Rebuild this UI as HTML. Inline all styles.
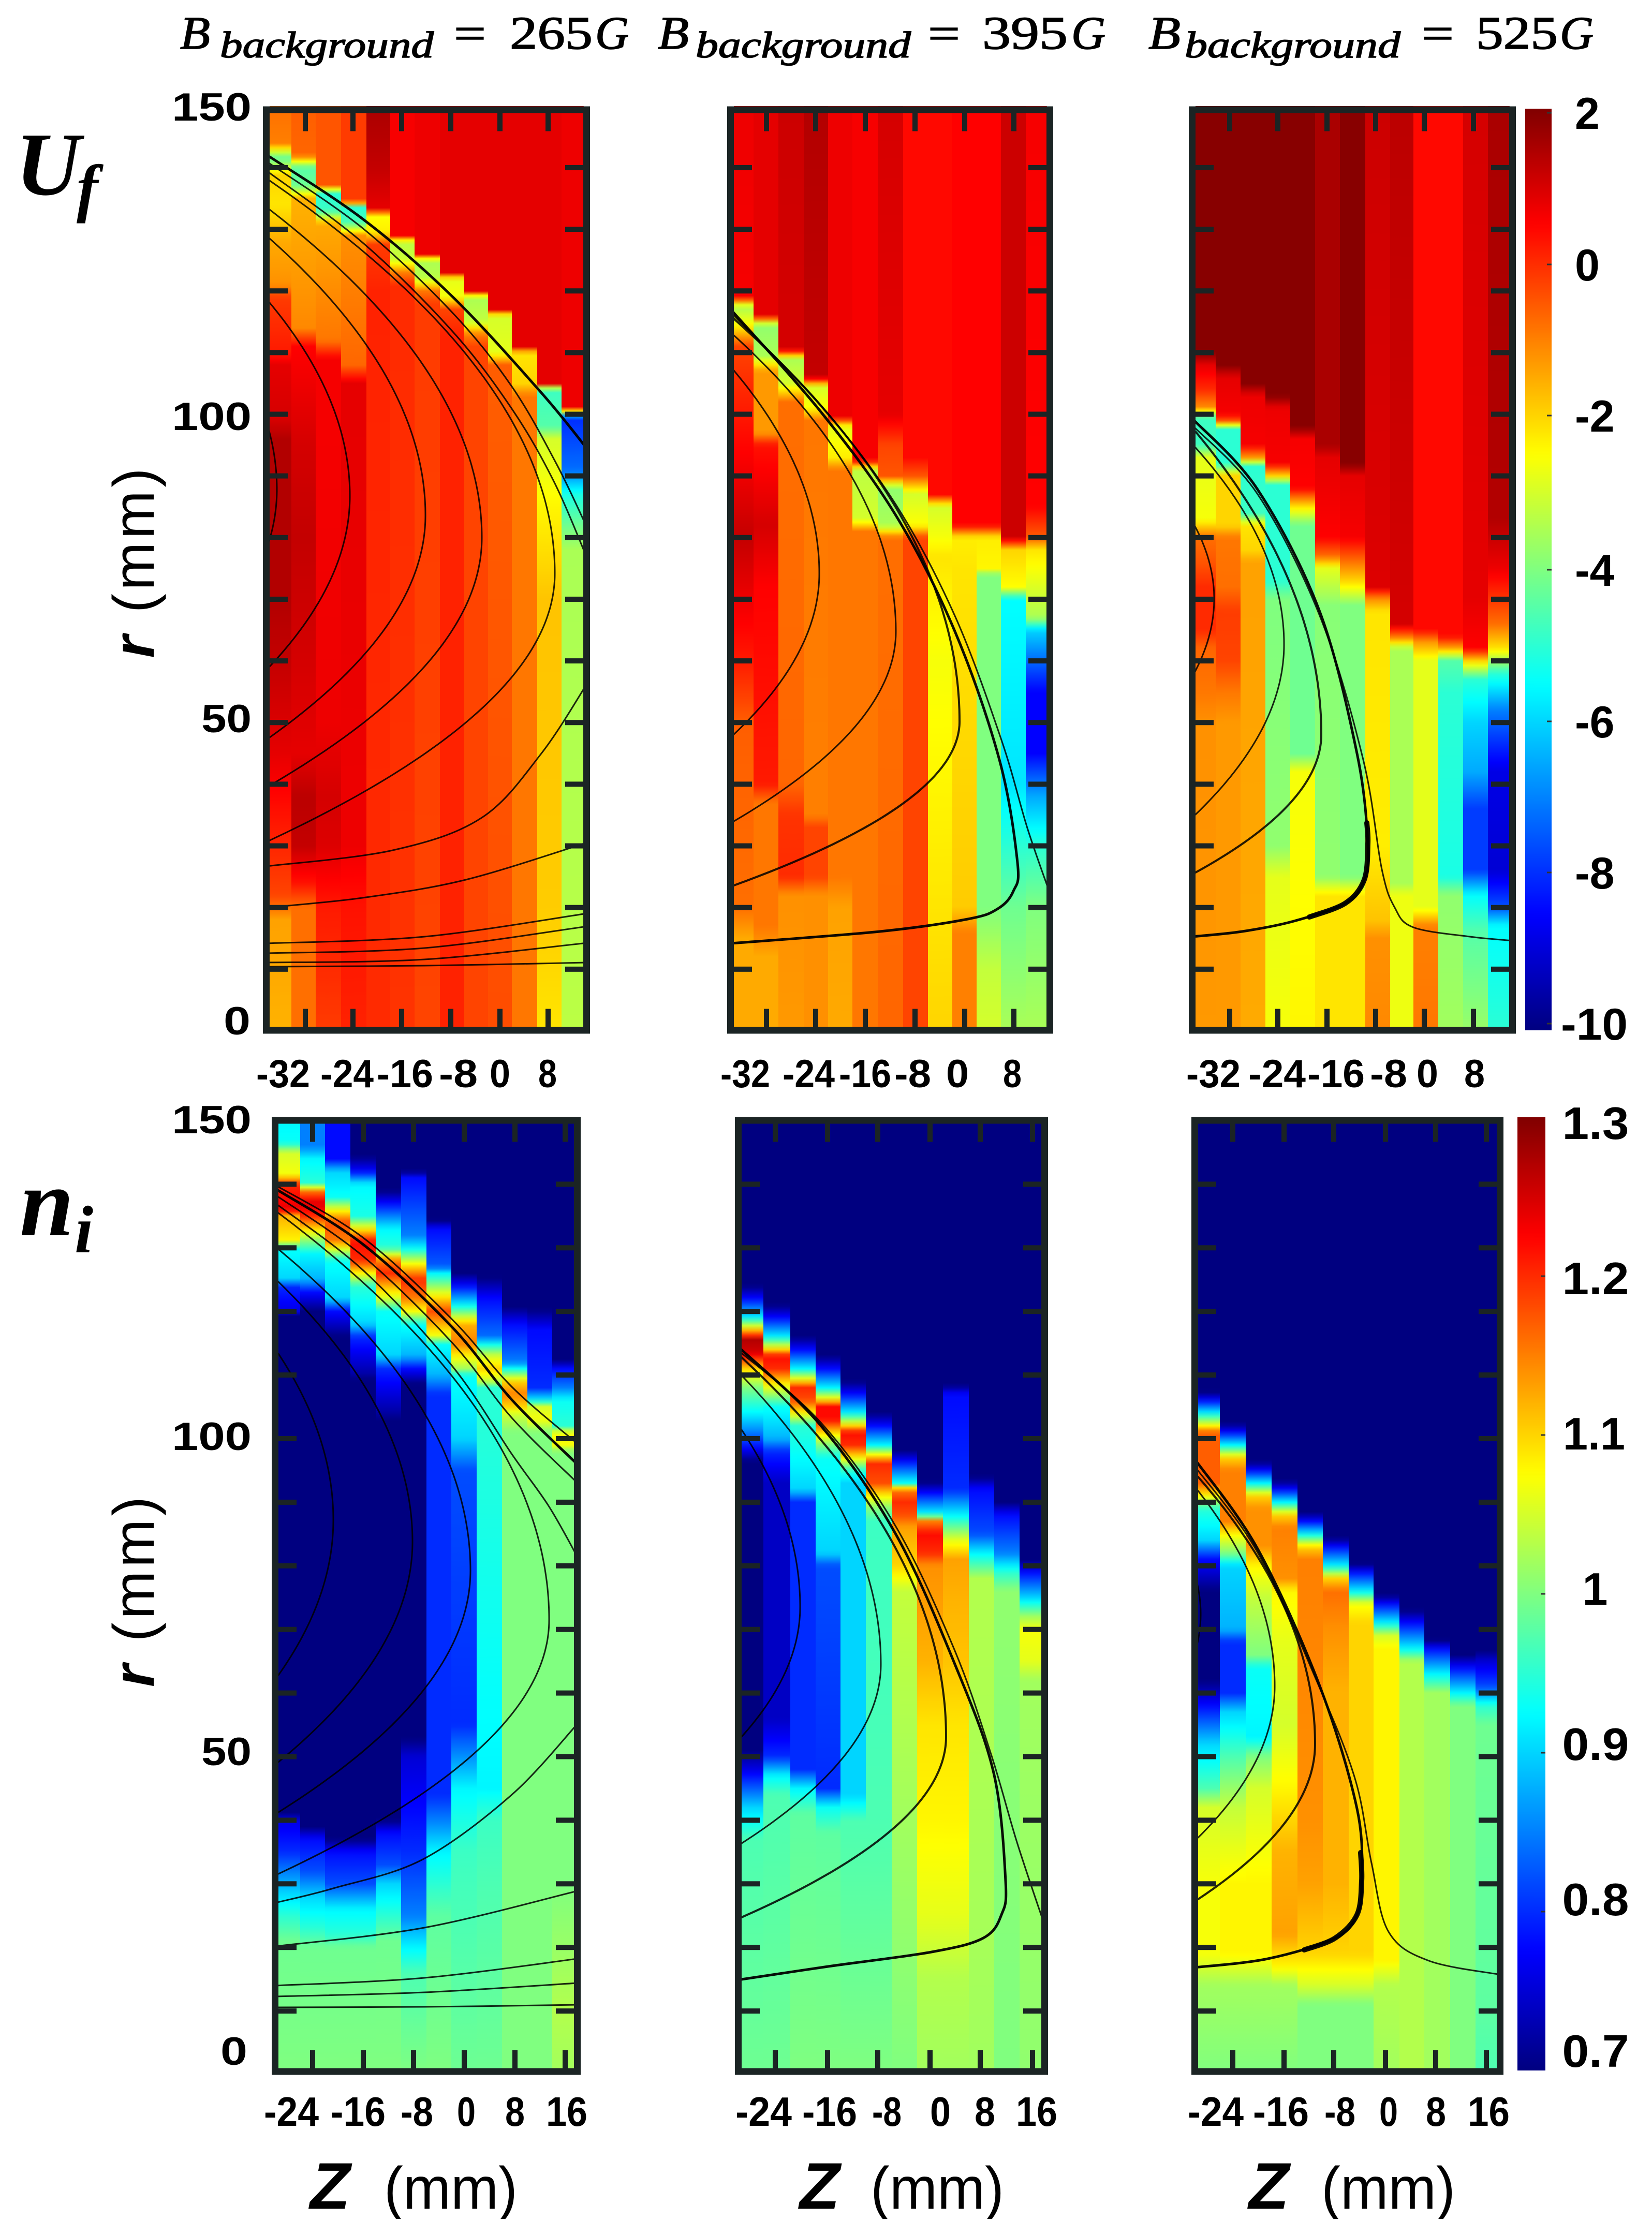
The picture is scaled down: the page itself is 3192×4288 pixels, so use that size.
<!DOCTYPE html>
<html>
<head>
<meta charset="utf-8">
<style>
html,body{margin:0;padding:0;background:#fff;}
svg{display:block;}
</style>
</head>
<body>
<svg id="fig" xmlns="http://www.w3.org/2000/svg" width="3192" height="4288" viewBox="0 0 3192 4288">
<rect x="0" y="0" width="3192" height="4288" fill="#fff"/>
<defs id="defs"></defs>
<g id="heat"></g>
<g id="cont"></g>
<g id="axes"></g>
<g id="texts" fill="#000">
  <!-- Titles -->
  <g font-family="Liberation Serif, DejaVu Serif, serif" font-style="italic" stroke="#000" stroke-width="1.6">
    <text x="348" y="94" font-size="90" textLength="58" lengthAdjust="spacingAndGlyphs">B</text>
    <text x="425" y="111" font-size="72" textLength="413" lengthAdjust="spacingAndGlyphs">background</text>
    <text x="877" y="94" font-size="88" font-style="normal" textLength="62" lengthAdjust="spacingAndGlyphs">=</text>
    <text x="985" y="94" font-size="90" font-style="normal" textLength="160" lengthAdjust="spacingAndGlyphs">265</text>
    <text x="1150" y="94" font-size="90" textLength="65" lengthAdjust="spacingAndGlyphs">G</text>

    <text x="1271" y="94" font-size="90" textLength="60" lengthAdjust="spacingAndGlyphs">B</text>
    <text x="1344" y="111" font-size="72" textLength="416" lengthAdjust="spacingAndGlyphs">background</text>
    <text x="1793" y="94" font-size="88" font-style="normal" textLength="62" lengthAdjust="spacingAndGlyphs">=</text>
    <text x="1898" y="94" font-size="90" font-style="normal" textLength="165" lengthAdjust="spacingAndGlyphs">395</text>
    <text x="2070" y="94" font-size="90" textLength="66" lengthAdjust="spacingAndGlyphs">G</text>

    <text x="2219" y="94" font-size="90" textLength="62" lengthAdjust="spacingAndGlyphs">B</text>
    <text x="2289" y="111" font-size="72" textLength="417" lengthAdjust="spacingAndGlyphs">background</text>
    <text x="2747" y="94" font-size="88" font-style="normal" textLength="62" lengthAdjust="spacingAndGlyphs">=</text>
    <text x="2852" y="94" font-size="90" font-style="normal" textLength="158" lengthAdjust="spacingAndGlyphs">525</text>
    <text x="3014" y="94" font-size="90" textLength="65" lengthAdjust="spacingAndGlyphs">G</text>
  </g>

  <!-- Row labels -->
  <g font-family="Liberation Serif, DejaVu Serif, serif" font-weight="bold" font-style="italic">
    <text x="30" y="376" font-size="174">U</text>
    <text x="148" y="405" font-size="125">f</text>
    <text x="38" y="2387" font-size="188">n</text>
    <text x="144" y="2420" font-size="130">i</text>
  </g>

  <!-- r (mm) labels -->
  <g font-family="Liberation Sans, Arial, sans-serif" font-size="112">
    <g transform="translate(297,1088) rotate(-90)">
      <text x="0" y="0" text-anchor="middle" textLength="367" lengthAdjust="spacing"><tspan font-weight="bold" font-style="italic">r</tspan> (mm)</text>
    </g>
    <g transform="translate(297,3076) rotate(-90)">
      <text x="0" y="0" text-anchor="middle" textLength="368" lengthAdjust="spacing"><tspan font-weight="bold" font-style="italic">r</tspan> (mm)</text>
    </g>
  </g>

  <!-- Z (mm) labels -->
  <g font-family="Liberation Sans, Arial, sans-serif">
    <text x="599" y="4268" font-size="127" font-weight="bold" font-style="italic">Z</text>
    <text x="742" y="4268" font-size="115" textLength="258" lengthAdjust="spacingAndGlyphs">(mm)</text>
    <text x="1545" y="4268" font-size="127" font-weight="bold" font-style="italic">Z</text>
    <text x="1682" y="4268" font-size="115" textLength="258" lengthAdjust="spacingAndGlyphs">(mm)</text>
    <text x="2413" y="4268" font-size="127" font-weight="bold" font-style="italic">Z</text>
    <text x="2553" y="4268" font-size="115" textLength="259" lengthAdjust="spacingAndGlyphs">(mm)</text>
  </g>

  <!-- Y tick labels -->
  <g font-family="Liberation Sans, Arial, sans-serif" font-weight="bold" font-size="76" text-anchor="end">
    <text x="486" y="233" textLength="154" lengthAdjust="spacingAndGlyphs">150</text>
    <text x="486" y="831" textLength="154" lengthAdjust="spacingAndGlyphs">100</text>
    <text x="486" y="1415" textLength="97" lengthAdjust="spacingAndGlyphs">50</text>
    <text x="484" y="1999" textLength="52" lengthAdjust="spacingAndGlyphs">0</text>
    <text x="486" y="2190" textLength="154" lengthAdjust="spacingAndGlyphs">150</text>
    <text x="486" y="2802" textLength="154" lengthAdjust="spacingAndGlyphs">100</text>
    <text x="486" y="3411" textLength="97" lengthAdjust="spacingAndGlyphs">50</text>
    <text x="478" y="3990" textLength="52" lengthAdjust="spacingAndGlyphs">0</text>
  </g>

  <!-- X tick labels top row -->
  <g font-family="Liberation Sans, Arial, sans-serif" font-weight="bold" font-size="76">
    <text x="495" y="2101" textLength="104" lengthAdjust="spacingAndGlyphs">-32</text>
    <text x="619" y="2101" textLength="103" lengthAdjust="spacingAndGlyphs">-24</text>
    <text x="728" y="2101" textLength="109" lengthAdjust="spacingAndGlyphs">-16</text>
    <text x="848" y="2101" textLength="75" lengthAdjust="spacingAndGlyphs">-8</text>
    <text x="946" y="2101" textLength="40" lengthAdjust="spacingAndGlyphs">0</text>
    <text x="1040" y="2101" textLength="36" lengthAdjust="spacingAndGlyphs">8</text>

    <text x="1392" y="2101" textLength="96" lengthAdjust="spacingAndGlyphs">-32</text>
    <text x="1512" y="2101" textLength="101" lengthAdjust="spacingAndGlyphs">-24</text>
    <text x="1621" y="2101" textLength="101" lengthAdjust="spacingAndGlyphs">-16</text>
    <text x="1728" y="2101" textLength="71" lengthAdjust="spacingAndGlyphs">-8</text>
    <text x="1828" y="2101" textLength="44" lengthAdjust="spacingAndGlyphs">0</text>
    <text x="1938" y="2101" textLength="36" lengthAdjust="spacingAndGlyphs">8</text>

    <text x="2292" y="2101" textLength="105" lengthAdjust="spacingAndGlyphs">-32</text>
    <text x="2412" y="2101" textLength="111" lengthAdjust="spacingAndGlyphs">-24</text>
    <text x="2526" y="2101" textLength="111" lengthAdjust="spacingAndGlyphs">-16</text>
    <text x="2647" y="2101" textLength="72" lengthAdjust="spacingAndGlyphs">-8</text>
    <text x="2737" y="2101" textLength="42" lengthAdjust="spacingAndGlyphs">0</text>
    <text x="2829" y="2101" textLength="40" lengthAdjust="spacingAndGlyphs">8</text>
  </g>

  <!-- X tick labels bottom row -->
  <g font-family="Liberation Sans, Arial, sans-serif" font-weight="bold" font-size="80">
    <text x="510" y="4108" textLength="106" lengthAdjust="spacingAndGlyphs">-24</text>
    <text x="639" y="4108" textLength="106" lengthAdjust="spacingAndGlyphs">-16</text>
    <text x="774" y="4108" textLength="63" lengthAdjust="spacingAndGlyphs">-8</text>
    <text x="883" y="4108" textLength="36" lengthAdjust="spacingAndGlyphs">0</text>
    <text x="976" y="4108" textLength="38" lengthAdjust="spacingAndGlyphs">8</text>
    <text x="1055" y="4108" textLength="80" lengthAdjust="spacingAndGlyphs">16</text>

    <text x="1421" y="4108" textLength="109" lengthAdjust="spacingAndGlyphs">-24</text>
    <text x="1550" y="4108" textLength="106" lengthAdjust="spacingAndGlyphs">-16</text>
    <text x="1685" y="4108" textLength="57" lengthAdjust="spacingAndGlyphs">-8</text>
    <text x="1797" y="4108" textLength="40" lengthAdjust="spacingAndGlyphs">0</text>
    <text x="1883" y="4108" textLength="40" lengthAdjust="spacingAndGlyphs">8</text>
    <text x="1963" y="4108" textLength="80" lengthAdjust="spacingAndGlyphs">16</text>

    <text x="2295" y="4108" textLength="108" lengthAdjust="spacingAndGlyphs">-24</text>
    <text x="2421" y="4108" textLength="108" lengthAdjust="spacingAndGlyphs">-16</text>
    <text x="2559" y="4108" textLength="60" lengthAdjust="spacingAndGlyphs">-8</text>
    <text x="2665" y="4108" textLength="36" lengthAdjust="spacingAndGlyphs">0</text>
    <text x="2755" y="4108" textLength="39" lengthAdjust="spacingAndGlyphs">8</text>
    <text x="2836" y="4108" textLength="81" lengthAdjust="spacingAndGlyphs">16</text>
  </g>

  <!-- Colorbar labels -->
  <g font-family="Liberation Sans, Arial, sans-serif" font-weight="bold" font-size="86">
    <text x="3043" y="249">2</text>
    <text x="3043" y="542">0</text>
    <text x="3043" y="834">-2</text>
    <text x="3043" y="1132">-4</text>
    <text x="3043" y="1425">-6</text>
    <text x="3043" y="1717">-8</text>
    <text x="3016" y="2009" textLength="129" lengthAdjust="spacingAndGlyphs">-10</text>
  </g>
  <g font-family="Liberation Sans, Arial, sans-serif" font-weight="bold" font-size="88" text-anchor="middle">
    <text x="3083" y="2201" textLength="129" lengthAdjust="spacingAndGlyphs">1.3</text>
    <text x="3083" y="2501" textLength="129" lengthAdjust="spacingAndGlyphs">1.2</text>
    <text x="3080" y="2801" textLength="120" lengthAdjust="spacingAndGlyphs">1.1</text>
    <text x="3082" y="3101">1</text>
    <text x="3083" y="3401" textLength="129" lengthAdjust="spacingAndGlyphs">0.9</text>
    <text x="3083" y="3701" textLength="129" lengthAdjust="spacingAndGlyphs">0.8</text>
    <text x="3083" y="3994" textLength="129" lengthAdjust="spacingAndGlyphs">0.7</text>
  </g>
</g>
</svg>
<script>
(function(){
var NS='http://www.w3.org/2000/svg';
var defs=document.getElementById('defs');
var heat=document.getElementById('heat');
var cont=document.getElementById('cont');
var axes=document.getElementById('axes');
function el(tag,attrs,parent){var e=document.createElementNS(NS,tag);for(var k in attrs){e.setAttribute(k,attrs[k]);}if(parent){parent.appendChild(e);}return e;}
function cl(x){return Math.max(0,Math.min(1,x));}
function jet(t){t=cl(t);var r=cl(1.5-Math.abs(4*t-3)),g=cl(1.5-Math.abs(4*t-2)),b=cl(1.5-Math.abs(4*t-1));
  return 'rgb('+Math.round(r*255)+','+Math.round(g*255)+','+Math.round(b*255)+')';}
function interp(st,r){
  if(r>=st[0][0])return st[0][1];
  for(var k=0;k<st.length-1;k++){var a=st[k],b=st[k+1];
    if(r<=a[0]&&r>=b[0]){var d=a[0]-b[0];var f=d>0?(a[0]-r)/d:0;return a[1]+f*(b[1]-a[1]);}}
  return st[st.length-1][1];}
var gid=0;
function panel(xs,y150,y0,cols,vmin,vmax){
  for(var i=0;i<cols.length;i++){
    var id='g'+(gid++);
    var lg=el('linearGradient',{id:id,gradientUnits:'userSpaceOnUse',x1:0,x2:0,y1:y150,y2:y0},defs);
    for(var r=150;r>=-0.01;r-=0.75){
      var rr=Math.max(0,r);
      var v=interp(cols[i],rr);
      el('stop',{offset:((150-rr)/150).toFixed(4),'stop-color':jet((v-vmin)/(vmax-vmin))},lg);
    }
    el('rect',{x:xs[i],y:y150,width:(xs[i+1]-xs[i]+0.8),height:(y0-y150),fill:'url(#'+id+')'},heat);
  }
}

/* ================= TOP ROW (U_f, -10..2) ================= */
var TP1=[
[[150,-0.8],[144,-1.0],[141.5,-4.5],[139,-2.0],[134,-2.2],[128,-1.5],[121,-1.2],[119,-0.2],[110,0.2],[108,0.8],[99,1.0],[96,1.4],[70,1.4],[60,1.2],[45,0.8],[35,0.3],[22,-0.3],[18,-1.4],[0,-1.6]],
[[150,-0.6],[142,-0.7],[140,-4.5],[137,-4.2],[135,-1.6],[114,-1.1],[111,0.5],[95,1.0],[80,1.2],[60,1.0],[45,0.8],[38,1.3],[30,1.2],[24,0.3],[20,-0.8],[0,-0.8]],
[[150,-0.5],[137,-0.5],[136,-5],[133,-4.8],[131,-1.5],[112,-0.9],[109,0.6],[50,0.7],[38,1.0],[30,0.9],[20,0.2],[0,-0.2]],
[[150,-0.2],[134.5,-0.2],[133.5,-5],[131,-4.6],[129,-1.2],[108,-0.7],[105,0.8],[30,0.7],[20,0.3],[0,0.1]],
[[150,1.5],[140,1.2],[133.5,0.8],[132,-2.5],[129.5,-2.3],[127.5,-0.2],[120,0.1],[0,0.0]],
[[150,0.6],[129,0.6],[128,-3.3],[125,-3.1],[123,-1.0],[121,0.0],[0,-0.1]],
[[150,0.7],[126,0.7],[125,-3.5],[122,-3.3],[120,-0.9],[118,-0.2],[0,-0.3]],
[[150,0.8],[123,0.8],[122,-2.8],[119,-2.6],[117,-0.3],[113,0.1],[0,0.1]],
[[150,0.8],[120,0.8],[119,-3.5],[115,-3.2],[113,-1.0],[111,-0.3],[0,-0.3]],
[[150,0.8],[117,0.8],[116,-3],[110,-2.8],[108,-0.6],[0,-0.4]],
[[150,0.8],[111,0.8],[110,-2.2],[105,-2.0],[103,-0.9],[0,-0.9]],
[[150,0.8],[105,0.8],[104,-4.8],[98,-4.5],[96,-3],[85,-2.4],[70,-1.8],[20,-1.9],[0,-2.2]],
[[150,0.7],[101,0.7],[99.5,-8],[91,-7.2],[87,-5.2],[82,-4.2],[78,-3.5],[0,-3.3]]
];
var TP2=[
[[150,0.7],[119,0.6],[117.5,-3.5],[114.5,-2.5],[111,-0.3],[92,0.6],[80,1.2],[72,0.8],[60,0.2],[50,-0.6],[20,-0.8],[15,-1.5],[0,-1.5]],
[[150,0.8],[116,0.8],[114.5,-3.8],[109.5,-3.5],[107,-1.3],[97,-1.3],[95,0.3],[82,1.0],[72,0.5],[40,0.2],[37,-0.9],[17,-0.9],[12,-1.5],[0,-1.5]],
[[150,1.1],[110.5,1.0],[109,-3.5],[105,-3],[102,-0.8],[40,-0.7],[35,-0.1],[25,0],[22,-1.2],[0,-1.3]],
[[150,1.4],[106,1.2],[104.5,-3],[101,-2.5],[99,-0.9],[35,-1.0],[33,-0.3],[25,-0.3],[22,-1.2],[0,-1.2]],
[[150,0.7],[99.5,0.7],[98,-2.8],[93,-2.3],[91,-0.9],[25,-0.9],[20,-1.4],[0,-1.5]],
[[150,0.6],[92.5,0.6],[91,-3.3],[83,-3.0],[81,-0.9],[0,-0.9]],
[[150,1.0],[100,0.8],[95,-0.3],[90,-0.5],[88,-3.8],[82,-3.5],[80,-0.8],[0,-0.7]],
[[150,0.4],[93,0.4],[90,-0.5],[87,-3],[82,-2.5],[80,-0.3],[0,-0.3]],
[[150,0.4],[87,0.4],[85,-3],[80,-2.6],[77,-2.2],[60,-2.6],[50,-2.5],[0,-2.0]],
[[150,0.5],[82,0.5],[80,-2.3],[75,-2.2],[20,-1.9],[16,-1.0],[0,-1.0]],
[[150,0.5],[82,0.5],[80,-2.3],[75,-2.4],[74,-4],[20,-4],[10,-3.2],[0,-3]],
[[150,1.1],[80,1.1],[78,-2],[72,-2.5],[70,-5.5],[40,-5.8],[30,-5],[20,-4.2],[0,-3.5]],
[[150,0.6],[85,0.5],[80,-0.6],[78,-2.2],[67,-3.5],[65,-6],[55,-8.5],[45,-8.5],[38,-6.5],[30,-5],[20,-4],[0,-3.5]]
];
var TP3=[
[[150,1.9],[110,1.9],[108,0.8],[104,0],[101,-1.2],[99.5,-4.8],[95,-4.8],[93,-2.8],[83,-2.6],[80,-0.8],[76,-0.5],[72,0],[65,0],[62,-0.7],[55,-0.9],[50,-1.2],[0,-1.3]],
[[150,1.9],[108,1.9],[106,0.8],[100,0.6],[99,-0.5],[97.5,-5],[92,-5],[90,-2],[82,-2],[80,-0.9],[72,-0.8],[68,-0.2],[60,-0.3],[55,-0.9],[50,-1.3],[0,-1.3]],
[[150,1.9],[105,1.9],[103,0.7],[95,0.6],[93,-1.3],[91.5,-5],[84,-4.8],[82,-2.2],[78,-2],[76,-1.4],[0,-1.5]],
[[150,1.9],[103,1.9],[101,0.7],[92,0.6],[90,-2],[88.5,-5],[73,-5],[70,-4],[30,-3.8],[25,-2.8],[0,-2.6]],
[[150,1.9],[98,1.9],[96,0.6],[88,0.5],[85,-2.2],[82,-4.2],[45,-4.2],[42,-2.6],[0,-2.4]],
[[150,1.5],[95,1.5],[93,0.8],[80,0.5],[77,-0.8],[75,-2.8],[71,-3.5],[69,-3.9],[25,-3.8],[22,-2.2],[0,-2.2]],
[[150,1.9],[92,1.9],[90,0.8],[80,0.6],[77,-0.5],[73,-2],[69,-4],[25,-4],[22,-2.2],[0,-2.2]],
[[150,1.1],[72,0.9],[70,-1.2],[68,-2.2],[30,-2.3],[18,-1.8],[15,-1.2],[0,-1.1]],
[[150,1.3],[66,1.0],[64,-0.8],[62,-3.5],[24,-3.5],[22,-2.7],[0,-2.7]],
[[150,0.4],[65,0.4],[63,-1.3],[60,-2.8],[20,-2.8],[17,-1.0],[0,-0.9]],
[[150,0.4],[64,0.4],[62,-1.5],[60,-4.5],[55,-5],[25,-5.2],[22,-3.8],[0,-3.6]],
[[150,1.0],[70,0.8],[62,0.5],[60,-2],[57,-5],[50,-6],[42,-6.5],[36,-7.8],[26,-7.8],[22,-5.5],[16,-4.5],[0,-3.7]],
[[150,1.5],[83,1.4],[75,0.7],[66,-0.8],[62,-2.2],[58,-5],[52,-7],[42,-8.8],[26,-9],[20,-7.5],[17,-5.5],[0,-5]]
];

/* ================= BOTTOM ROW (n_i, 0.7..1.3) ================= */
var BP1=[
[[150,0.92],[146.5,0.93],[145,1.05],[141.5,1.07],[140,1.2],[136,1.24],[135,1.12],[131,1.08],[130,0.93],[125,0.9],[124,0.8],[120,0.76],[119,0.66],[42,0.66],[40,0.76],[35,0.8],[30,0.88],[25,0.95],[21,0.99],[0,1.0]],
[[150,0.85],[146,0.85],[144,0.92],[140,0.95],[139,1.15],[137,1.25],[135,1.2],[133,1.1],[131,1.0],[129,0.92],[125,0.88],[123,0.78],[120,0.7],[118,0.66],[40,0.66],[37,0.78],[32,0.82],[28,0.9],[23,0.95],[20,0.99],[0,1.0]],
[[150,0.78],[144,0.78],[142,0.9],[138,0.93],[136,1.07],[134,1.18],[131,1.15],[130,1.07],[128,0.93],[122,0.9],[120,0.78],[116,0.7],[113,0.66],[38,0.66],[35,0.78],[30,0.82],[26,0.92],[22,0.95],[20,0.99],[0,1.0]],
[[150,0.66],[145,0.68],[142,0.78],[140,0.92],[135,0.94],[133,1.08],[131,1.22],[128,1.2],[126,1.08],[124,0.95],[118,0.9],[116,0.8],[110,0.72],[108,0.66],[38,0.66],[35,0.78],[30,0.82],[26,0.92],[22,0.95],[20,0.99],[0,1.0]],
[[150,0.66],[140,0.66],[137,0.78],[133,0.92],[130,0.95],[128,1.15],[126,1.2],[124,1.12],[122,1.05],[120,0.93],[113,0.9],[111,0.8],[104,0.72],[101,0.66],[41,0.66],[38,0.78],[33,0.82],[30,0.9],[25,0.95],[21,0.99],[0,1.0]],
[[150,0.66],[142,0.7],[141,0.78],[132,0.85],[130,0.92],[127,1.1],[125,1.2],[122,1.15],[120,1.07],[118,0.93],[113,0.88],[111,0.78],[108,0.68],[54,0.68],[50,0.75],[35,0.8],[25,0.85],[20,0.92],[16,0.97],[0,1.0]],
[[150,0.66],[135,0.66],[133,0.78],[127,0.83],[126,0.92],[122,1.1],[120,1.18],[118,1.12],[116,1.06],[115,0.93],[110,0.88],[107,0.8],[44,0.8],[40,0.85],[35,0.92],[30,0.95],[25,0.98],[0,1.0]],
[[150,0.66],[127,0.66],[124,0.78],[121,0.92],[118,1.12],[115,1.15],[113,1.08],[111,1.02],[110,0.93],[100,0.9],[95,0.82],[55,0.8],[50,0.86],[45,0.92],[40,0.94],[35,0.96],[0,0.99]],
[[150,0.66],[127,0.66],[122,0.78],[116,0.84],[115,0.92],[113,1.05],[111,1.1],[109,1.04],[108,0.95],[45,0.92],[40,0.96],[30,0.97],[0,0.99]],
[[150,0.66],[122,0.66],[118,0.78],[112,0.85],[111,0.93],[109,1.1],[107,1.15],[105,1.1],[104,1.05],[101,1.0],[0,1.0]],
[[150,0.66],[122,0.66],[117,0.78],[108,0.8],[106,0.92],[105,1.05],[103,1.07],[101,1.0],[0,1.0]],
[[150,0.66],[113,0.66],[111,0.78],[108,0.85],[106,0.93],[102,0.95],[101,1.07],[99,1.07],[98,1.0],[30,1.0],[10,1.03],[0,1.02]]
];
var BP2=[
[[150,0.66],[125,0.66],[122,0.78],[119,0.92],[117,1.12],[115.5,1.27],[113.5,1.25],[111,1.1],[108,1.0],[104,0.92],[101,0.85],[98,0.76],[96,0.68],[52,0.68],[48,0.76],[42,0.9],[37,0.97],[0,0.99]],
[[150,0.66],[122,0.66],[119,0.78],[116,0.92],[114,1.1],[113,1.22],[111,1.2],[109,1.1],[107,1.02],[105,0.93],[100,0.88],[98,0.8],[93,0.74],[56,0.74],[50,0.8],[47,0.92],[44,0.97],[0,0.99]],
[[150,0.66],[117,0.66],[114,0.78],[111,0.92],[109,1.1],[108,1.2],[106,1.18],[104,1.08],[102,0.95],[92,0.9],[90,0.8],[48,0.8],[45,0.92],[41,0.98],[0,1.0]],
[[150,0.66],[114,0.66],[111,0.78],[108,0.92],[106,1.1],[105,1.22],[103,1.22],[101,1.1],[99,1.0],[97,0.93],[82,0.9],[80,0.82],[45,0.8],[42,0.93],[38,0.98],[0,1.0]],
[[150,0.66],[110,0.66],[107,0.78],[104,0.92],[102,1.1],[101,1.22],[99,1.2],[97,1.08],[95,0.95],[93,0.9],[44,0.9],[40,0.97],[0,1.0]],
[[150,0.66],[105,0.66],[102,0.78],[99,0.92],[97,1.12],[96,1.2],[93,1.18],[91,1.08],[89,1.0],[87,0.96],[40,0.97],[0,1.0]],
[[150,0.66],[99,0.66],[96,0.8],[93,0.93],[92,1.15],[90,1.2],[88,1.18],[86,1.13],[80,1.1],[76,1.04],[40,1.02],[0,1.0]],
[[150,0.66],[94,0.66],[91,0.8],[88,0.93],[87,1.15],[85,1.22],[82,1.2],[80,1.14],[65,1.12],[55,1.09],[40,1.08],[25,1.06],[15,1.03],[0,1.02]],
[[150,0.66],[109,0.66],[107,0.78],[92,0.8],[88,0.92],[84,1.06],[81,1.13],[75,1.12],[65,1.11],[55,1.09],[40,1.08],[25,1.06],[15,1.03],[0,1.02]],
[[150,0.66],[95,0.66],[92,0.78],[85,0.82],[82,0.92],[78,1.03],[0,1.02]],
[[150,0.66],[91,0.66],[88,0.78],[82,0.85],[79,0.95],[76,1.01],[0,1.0]],
[[150,0.66],[82,0.66],[79,0.78],[75,0.9],[72,1.02],[70,1.07],[65,1.06],[62,1.02],[0,1.01]]
];
var BP3=[
[[150,0.66],[108,0.66],[106,0.78],[104,0.92],[102,1.08],[101,1.17],[93,1.17],[91,1.08],[89,0.95],[84,0.9],[81,0.78],[76,0.7],[62,0.7],[58,0.78],[52,0.9],[45,0.97],[42,1.05],[30,1.07],[19,1.07],[14,1.02],[0,1.0]],
[[150,0.66],[103,0.66],[101,0.78],[99,0.92],[97,1.1],[95,1.15],[87,1.15],[85,1.08],[82,1.0],[80,0.9],[70,0.88],[68,0.8],[60,0.8],[57,0.9],[50,0.97],[42,1.04],[30,1.08],[19,1.08],[14,1.02],[0,1.0]],
[[150,0.66],[97,0.66],[95,0.78],[93,0.92],[91,1.1],[89,1.14],[83,1.14],[80,1.08],[75,1.04],[66,1.0],[64,0.93],[53,0.92],[50,1.0],[45,1.05],[30,1.08],[19,1.08],[14,1.02],[0,1.0]],
[[150,0.66],[94,0.66],[92,0.78],[90,0.92],[88,1.1],[86,1.15],[78,1.14],[76,1.08],[68,1.06],[55,1.05],[45,1.08],[35,1.12],[22,1.13],[17,1.08],[14,1.02],[0,1.0]],
[[150,0.66],[89,0.66],[87,0.78],[85,0.92],[83,1.1],[81,1.15],[40,1.14],[30,1.13],[19,1.1],[14,1.05],[11,1.0],[0,1.0]],
[[150,0.66],[85,0.66],[83,0.78],[80,0.92],[78,1.1],[76,1.16],[70,1.14],[60,1.12],[30,1.12],[19,1.1],[14,1.05],[11,1.0],[0,1.0]],
[[150,0.66],[81,0.66],[79,0.78],[76,0.92],[74,1.07],[71,1.1],[19,1.1],[14,1.05],[11,1.0],[0,1.0]],
[[150,0.66],[76,0.66],[74,0.78],[71,0.92],[69,1.05],[67,1.08],[18,1.08],[14,1.03],[0,1.02]],
[[150,0.66],[74,0.66],[71,0.78],[67,0.92],[65,1.03],[0,1.03]],
[[150,0.66],[69,0.66],[67,0.78],[63,0.92],[60,1.02],[0,1.02]],
[[150,0.66],[67,0.66],[64,0.78],[60,0.92],[58,1.0],[0,1.0]],
[[150,0.66],[68,0.66],[65,0.75],[61,0.82],[58,0.95],[55,0.99],[10,0.98],[0,0.97]]
];

var TY150=205,TY0=1992,BY150=2165.5,BY0=4009;
panel([521,563,610,659,708,754,801,850,897,943,989,1038,1085,1127],TY150,TY0,TP1,-10,2);
panel([1418,1456,1504,1553,1600,1647,1696,1745,1793,1840,1887,1934,1982,2022],TY150,TY0,TP2,-10,2);
panel([2310,2349,2397,2445,2493,2541,2589,2638,2686,2731,2779,2827,2875,2916],TY150,TY0,TP3,-10,2);
panel([538,580,628,677,726,775,824,872,921,970,1019,1067,1109],BY150,BY0,BP1,0.7,1.3);
panel([1433,1475,1527,1576,1624,1673,1724,1772,1822,1872,1921,1970,2012],BY150,BY0,BP2,0.7,1.3);
panel([2315,2357,2407,2457,2507,2556,2606,2654,2704,2752,2802,2851,2892],BY150,BY0,BP3,0.7,1.3);

/* colorbars */
function cbar(x,y,w,h){
  var id='g'+(gid++);
  var lg=el('linearGradient',{id:id,gradientUnits:'userSpaceOnUse',x1:0,x2:0,y1:y,y2:y+h},defs);
  for(var k=0;k<=100;k++){var t=1-k/100; el('stop',{offset:(k/100).toFixed(3),'stop-color':jet(t)},lg);}
  el('rect',{x:x,y:y,width:w,height:h,fill:'url(#'+id+')'},heat);
}
cbar(2947,210,51,1781);
cbar(2932,2159,54,1842);
[218,511,803,1101,1394,1686,1978].forEach(function(y){el('rect',{x:2989,y:y-1.5,width:9,height:3,fill:'#333'},axes);});
[2466,2773,3080,3387,3694].forEach(function(y){el('rect',{x:2977,y:y-1.5,width:9,height:3,fill:'#333'},axes);});

/* contour lines */
function arcPts(xL,yT,xR,yR,yB){
  var p=[],N=36,k,u,y;
  for(k=0;k<=N;k++){u=1-k/N;y=yR+(yT-yR)*u;p.push([xL+(xR-xL)*(1-u*u),y]);}
  for(k=1;k<=N;k++){u=k/N;y=yR+(yB-yR)*u;p.push([xL+(xR-xL)*(1-u*u),y]);}
  return p;}
function smooth(pts){
  var d='M'+pts[0][0].toFixed(1)+','+pts[0][1].toFixed(1);
  for(var i=0;i<pts.length-1;i++){
    var p0=pts[i-1]||pts[i],p1=pts[i],p2=pts[i+1],p3=pts[i+2]||p2;
    var c1x=p1[0]+(p2[0]-p0[0])/6,c1y=p1[1]+(p2[1]-p0[1])/6,c2x=p2[0]-(p3[0]-p1[0])/6,c2y=p2[1]-(p3[1]-p1[1])/6;
    d+='C'+c1x.toFixed(1)+','+c1y.toFixed(1)+' '+c2x.toFixed(1)+','+c2y.toFixed(1)+' '+p2[0].toFixed(1)+','+p2[1].toFixed(1);}
  return d;}
var C=[
 {clip:[521,212,1127,1986],lines:[
   {arc:[509,797,535,946,1077]},
   {arc:[521,585,676,958,1288]},
   {arc:[521,461,822,996,1425]},
   {arc:[521,405,931,1039,1518]},
   {arc:[521,349,1072,1108,1624]},
   {pts:[[515,330],[702,470],[874,640],[989,790],[1070,930],[1135,1080]]},
   {pts:[[515,312],[702,442],[874,604],[989,747],[1075,896],[1135,1021]]},
   {pts:[[515,299],[702,424],[874,573],[1046,759],[1135,868]],w:5},
   {pts:[[1135,1320],[1046,1456],[931,1580],[759,1643],[515,1674]]},
   {pts:[[1135,1628],[900,1700],[700,1735],[515,1754]]},
   {pts:[[515,1823],[820,1810],[1135,1765]]},
   {pts:[[515,1842],[820,1832],[1135,1790]]},
   {pts:[[515,1860],[820,1854],[1135,1822]]},
   {pts:[[515,1868],[820,1866],[1135,1860]]}
 ]},
 {clip:[1418,212,2022,1986],lines:[
   {arc:[1418,716,1583,1108,1419]},
   {arc:[1418,648,1731,1220,1587]},
   {arc:[1418,616,1854,1394,1711],w:4},
   {pts:[[1412,598],[1587,797],[1731,996],[1845,1220],[1931,1468],[1966,1667],[1958,1722],[1928,1756],[1870,1776],[1700,1800],[1412,1823]],w:5},
   {pts:[[1412,604],[1587,784],[1731,975],[1845,1190],[1935,1430],[1985,1600],[2030,1730]],w:3}
 ]},
 {clip:[2310,212,2916,1986],lines:[
   {arc:[2297,996,2346,1157,1319]},
   {arc:[2310,865,2481,1245,1574]},
   {arc:[2310,834,2553,1419,1686],w:4},
   {pts:[[2304,809],[2430,946],[2550,1182],[2622,1456],[2643,1630],[2636,1700],[2600,1745],[2500,1780],[2400,1800],[2304,1810]],w:5},
   {pts:[[2641,1590],[2643,1630],[2636,1700],[2600,1745],[2530,1772]],w:10},
   {pts:[[2304,822],[2430,955],[2550,1190],[2634,1468],[2670,1680],[2695,1754],[2731,1792],[2840,1810],[2925,1818]],w:3}
 ]},
 {clip:[538,2172,1109,3997],lines:[
   {arc:[538,2616,644,2937,3237]},
   {arc:[538,2477,797,2979,3405]},
   {arc:[538,2414,909,3035,3502]},
   {arc:[538,2344,1061,3130,3621]},
   {pts:[[532,2290],[702,2392],[874,2550],[989,2680],[1116,2790]]},
   {pts:[[532,2297],[702,2405],[874,2565],[989,2705],[1116,2830]],w:5},
   {pts:[[532,2309],[702,2428],[874,2595],[989,2740],[1116,2866]]},
   {pts:[[532,2325],[702,2455],[874,2640],[989,2810],[1060,2910],[1116,3009]]},
   {pts:[[1116,3331],[989,3468],[817,3593],[644,3649],[532,3677]]},
   {pts:[[1116,3654],[820,3725],[532,3761]]},
   {pts:[[532,3837],[820,3822],[1116,3785]]},
   {pts:[[532,3858],[820,3850],[1116,3832]]},
   {pts:[[532,3879],[820,3878],[1116,3874]]}
 ]},
 {clip:[1433,2172,2012,3997],lines:[
   {arc:[1433,2763,1546,3105,3356]},
   {arc:[1433,2658,1702,3216,3562]},
   {arc:[1433,2623,1828,3356,3705],w:4},
   {pts:[[1426,2602],[1587,2756],[1731,2965],[1845,3216],[1920,3426],[1943,3635],[1935,3700],[1900,3745],[1800,3772],[1600,3800],[1426,3826]],w:5},
   {pts:[[1426,2609],[1587,2750],[1731,2950],[1845,3190],[1915,3390],[1965,3560],[2020,3725]],w:3}
 ]},
 {clip:[2315,2172,2892,3997],lines:[
   {arc:[2301,3021,2320,3119,3216]},
   {arc:[2315,2881,2463,3258,3551]},
   {arc:[2315,2854,2541,3370,3670],w:4},
   {pts:[[2308,2819],[2430,2993],[2550,3258],[2622,3495],[2631,3635],[2622,3700],[2580,3745],[2450,3785],[2308,3802]],w:5},
   {pts:[[2629,3580],[2631,3635],[2622,3700],[2580,3745],[2520,3768]],w:10},
   {pts:[[2308,2833],[2430,3000],[2550,3262],[2619,3440],[2650,3600],[2683,3733],[2761,3789],[2900,3816]],w:3}
 ]}
];
C.forEach(function(pn,i){
  var cid='clip'+i;
  var cp=el('clipPath',{id:cid},defs);
  el('rect',{x:pn.clip[0],y:pn.clip[1],width:pn.clip[2]-pn.clip[0],height:pn.clip[3]-pn.clip[1]},cp);
  var g=el('g',{'clip-path':'url(#'+cid+')',fill:'none',stroke:'#000','stroke-linecap':'round','stroke-linejoin':'round'},cont);
  pn.lines.forEach(function(L){
    var pts=L.arc?arcPts.apply(null,L.arc):L.pts;
    el('path',{d:smooth(pts),'stroke-width':L.w||3,'stroke-opacity':(L.w&&L.w>=5)?0.95:0.85},g);
  });
});

/* frames and ticks */
var FC='#1b2424';
var F=[
 {xl:514.5,xr:1133.5,yt:212,yb:1991,xt:[590,682,776,871,966,1059],row:0},
 {xl:1411.5,xr:2028.5,yt:212,yb:1991,xt:[1481,1576,1672,1768,1864,1959],row:0},
 {xl:2303.5,xr:2922.5,yt:212,yb:1991,xt:[2376,2469,2564,2658,2752,2847],row:0},
 {xl:531.5,xr:1115.5,yt:2165,yb:4003,xt:[604,702,799,897,995,1092],row:1},
 {xl:1426.5,xr:2018.5,yt:2165,yb:4003,xt:[1498,1599,1696,1797,1894,1995],row:1},
 {xl:2308.5,xr:2898.5,yt:2165,yb:4003,xt:[2382,2481,2577,2677,2774,2872],row:1}
];
var SW=13,TL=35,TW=10;
F.forEach(function(f){
  var il=f.xl+SW/2,ir=f.xr-SW/2,it=f.yt+SW/2,ib=f.yb-SW/2;
  f.xt.forEach(function(x){
    el('rect',{x:x-TW/2,y:it,width:TW,height:TL,fill:FC},axes);
    el('rect',{x:x-TW/2,y:ib-TL,width:TW,height:TL,fill:FC},axes);
  });
  for(var r=10;r<=140;r+=10){
    var y=f.row===0?(1992-11.915*r):(4009-12.29*r);
    el('rect',{x:il,y:y-TW/2,width:TL,height:TW,fill:FC},axes);
    el('rect',{x:ir-TL,y:y-TW/2,width:TL,height:TW,fill:FC},axes);
  }
  el('rect',{x:f.xl,y:f.yt,width:f.xr-f.xl,height:f.yb-f.yt,fill:'none',stroke:FC,'stroke-width':SW},axes);
});
})();
</script>
</body>
</html>
